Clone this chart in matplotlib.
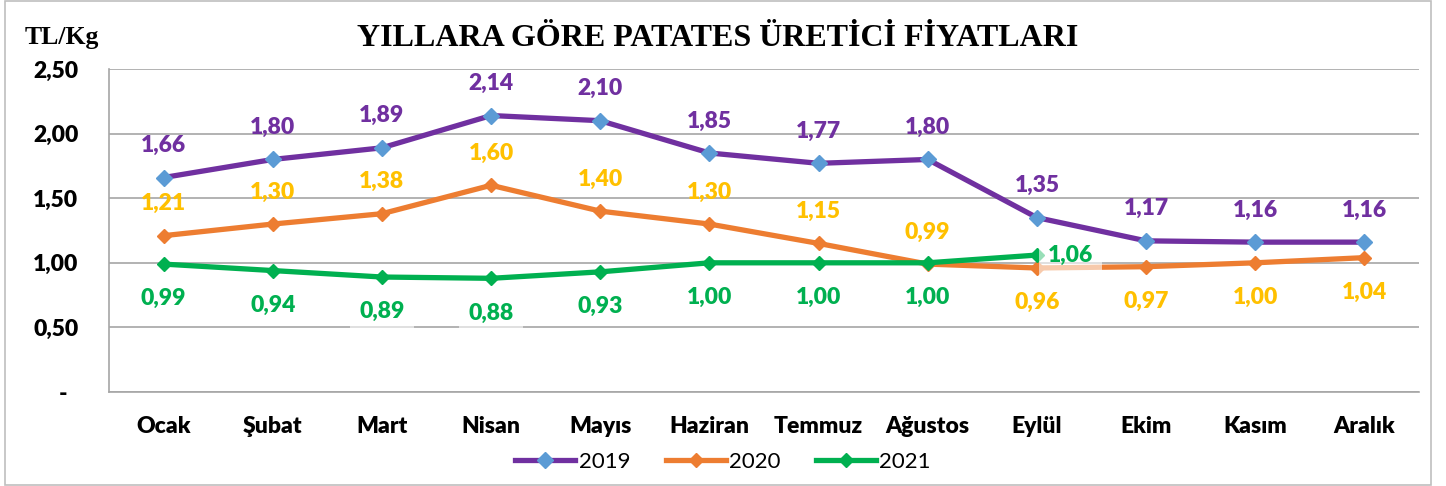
import matplotlib.pyplot as plt
from matplotlib.patches import Rectangle

months = ["Ocak", "Şubat", "Mart", "Nisan", "Mayıs", "Haziran", "Temmuz",
          "Ağustos", "Eylül", "Ekim", "Kasım", "Aralık"]
y2019 = [1.66, 1.80, 1.89, 2.14, 2.10, 1.85, 1.77, 1.80, 1.35, 1.17, 1.16, 1.16]
y2020 = [1.21, 1.30, 1.38, 1.60, 1.40, 1.30, 1.15, 0.99, 0.96, 0.97, 1.00, 1.04]
y2021 = [0.99, 0.94, 0.89, 0.88, 0.93, 1.00, 1.00, 1.00, 1.06]
yticks = [0, 0.5, 1.0, 1.5, 2.0, 2.5]
yticklabels = ["-  ", "0,50", "1,00", "1,50", "2,00", "2,50"]

# where each data label sits relative to its point
pos2019 = ["up"] * 12
pos2020 = ["up"] * 8 + ["down"] * 4
pos2021 = ["down"] * 8 + ["right"]

plt.rcParams['font.family'] = ['Lato', 'DejaVu Sans']

fig = plt.figure(figsize=(14.46, 4.86), dpi=100)
ax = fig.add_axes([0.0754, 0.1934, 0.9059, 0.6646])

x = list(range(12))
ax.plot(x, y2019, color="#7030A0", lw=3.8, marker="D", ms=8,
        mfc="#5B9BD5", mec="#5B9BD5", label="2019", zorder=4)
ax.plot(x, y2020, color="#ED7D31", lw=3.8, marker="D", ms=7,
        mfc="#ED7D31", mec="#ED7D31", label="2020", zorder=3)
ax.plot(x[:len(y2021)], y2021, color="#00B050", lw=3.8, marker="D", ms=7,
        mfc="#00B050", mec="#00B050", label="2021", zorder=5)


def fmt(v):
    return f"{v:.2f}".replace(".", ",")


def put_labels(vals, where, color, box=False):
    for i, v in enumerate(vals):
        if where[i] == "up":
            off, ha = (0, 23), "center"
        elif where[i] == "down":
            off, ha = (0, -25), "center"
        else:
            off, ha = (8, 0), "left"
        kw = {}
        if box:
            kw["bbox"] = dict(boxstyle="square,pad=0.4", fc="white",
                              ec="none", alpha=0.6)
        ax.annotate(fmt(v), (i, v), xytext=off, textcoords="offset points",
                    ha=ha, va="center", color=color, fontsize=16.5,
                    fontweight="heavy", zorder=6, **kw)


put_labels(y2019, pos2019, "#7030A0")
put_labels(y2020, pos2020, "#FFC000")
put_labels(y2021, pos2021, "#00B050", box=True)

ax.set_xlim(-0.5, 11.5)
ax.set_ylim(0, 2.5)
ax.set_yticks(yticks)
ax.set_yticklabels(yticklabels)
ax.set_xticks(x)
ax.set_xticklabels(months)
ax.grid(axis="y", color="#A6A6A6", lw=1.2, zorder=0)
for s in ["top", "right"]:
    ax.spines[s].set_visible(False)
for s in ["left", "bottom"]:
    ax.spines[s].set_color("#A6A6A6")
    ax.spines[s].set_linewidth(1.2)
ax.tick_params(axis="y", length=0, pad=22, labelsize=16.5)
ax.tick_params(axis="x", length=0, pad=17, labelsize=16.5)
for lab in ax.get_xticklabels() + ax.get_yticklabels():
    lab.set_fontweight("heavy")

fig.text(0.496, 0.92, "YILLARA GÖRE PATATES ÜRETİCİ FİYATLARI",
         ha="center", va="center", family="Liberation Serif",
         fontweight="bold", fontsize=23)
fig.text(0.017, 0.922, "TL/Kg", ha="left", va="center",
         family="Liberation Serif", fontweight="bold", fontsize=18.5)

fig.legend(loc="center", bbox_to_anchor=(0.5, 0.049), ncol=3, frameon=False,
           fontsize=16, handlelength=2.7, handletextpad=0.15,
           columnspacing=1.6)

fig.patches.append(Rectangle((0.0035, 0.002), 0.9862, 0.996,
                             transform=fig.transFigure, fill=False,
                             ec="#BFBFBF", lw=1.2))

fig.savefig("out.png", dpi=100)
